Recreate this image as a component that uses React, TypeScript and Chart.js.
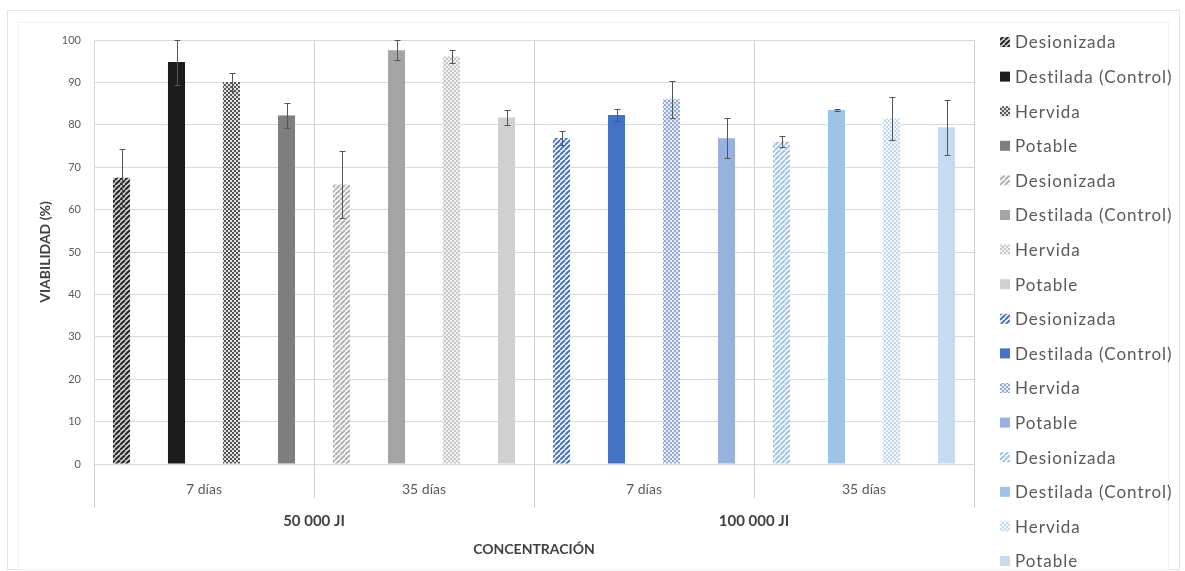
import React, { useEffect, useRef } from "react";
import { Chart, registerables } from "chart.js";

Chart.register(...registerables);

// ---- Data ----
const categories = ["7 días", "35 días", "7 días", "35 días"];
const groupLabels = ["50 000 JI", "100 000 JI"];
const waterTypes = ["Desionizada", "Destilada (Control)", "Hervida", "Potable"];

// Viability means (%) per water type, for each category
const mean50k7d = [67.5, 94.8, 90.1, 82.2];
const mean50k35d = [65.9, 97.6, 96.1, 81.7];
const mean100k7d = [76.9, 82.3, 86.0, 76.8];
const mean100k35d = [76.0, 83.5, 81.5, 79.4];

// Error (+/-)
const err50k7d = [6.8, 5.3, 2.2, 3.0];
const err50k35d = [7.9, 2.4, 1.5, 1.7];
const err100k7d = [1.7, 1.5, 4.4, 4.7];
const err100k35d = [1.3, 0.2, 5.0, 6.5];

const means = [mean50k7d, mean50k35d, mean100k7d, mean100k35d];
const errs = [err50k7d, err50k35d, err100k7d, err100k35d];

// ---- Styles ----
type Fill = { kind: "solid" | "stripes" | "checker"; fg: string; bg?: string };
const fills: Fill[][] = [
  [
    { kind: "stripes", fg: "#262626", bg: "#d9d9d9" },
    { kind: "solid", fg: "#1c1c1c" },
    { kind: "checker", fg: "#555555", bg: "#e0e0e0" },
    { kind: "solid", fg: "#7f7f7f" },
  ],
  [
    { kind: "stripes", fg: "#b0b0b0", bg: "#ffffff" },
    { kind: "solid", fg: "#a6a4a4" },
    { kind: "checker", fg: "#c8c8c8", bg: "#f2f2f2" },
    { kind: "solid", fg: "#d0d0d0" },
  ],
  [
    { kind: "stripes", fg: "#4472c4", bg: "#ffffff" },
    { kind: "solid", fg: "#4472c4" },
    { kind: "checker", fg: "#8faadc", bg: "#e9eef8" },
    { kind: "solid", fg: "#99b1de" },
  ],
  [
    { kind: "stripes", fg: "#9dc3e6", bg: "#ffffff" },
    { kind: "solid", fg: "#9dc3e6" },
    { kind: "checker", fg: "#c2d9ef", bg: "#f3f8fc" },
    { kind: "solid", fg: "#c6dbf0" },
  ],
];

function makeFill(f: Fill): any {
  if (f.kind === "solid") return f.fg;
  const c = document.createElement("canvas");
  const size = f.kind === "stripes" ? 5 : 4;
  c.width = size;
  c.height = size;
  const ctx = c.getContext("2d")!;
  ctx.fillStyle = f.bg || "#fff";
  ctx.fillRect(0, 0, size, size);
  if (f.kind === "stripes") {
    ctx.strokeStyle = f.fg;
    ctx.lineWidth = 2;
    for (let o = -size; o <= size; o += size) {
      ctx.beginPath();
      ctx.moveTo(o, size);
      ctx.lineTo(o + size, 0);
      ctx.stroke();
    }
  } else {
    ctx.fillStyle = f.fg;
    ctx.fillRect(0, 0, 2, 2);
    ctx.fillRect(2, 2, 2, 2);
  }
  return ctx.createPattern(c, "repeat");
}

const errorBarPlugin = {
  id: "errorBars",
  afterDatasetsDraw(chart: any) {
    const ctx = chart.ctx;
    const y = chart.scales.y;
    const area = chart.chartArea;
    ctx.save();
    ctx.beginPath();
    ctx.rect(area.left, area.top - 1, area.right - area.left, area.bottom - area.top + 1);
    ctx.clip();
    ctx.strokeStyle = "#555555";
    ctx.lineWidth = 1;
    chart.data.datasets.forEach((ds: any, di: number) => {
      const meta = chart.getDatasetMeta(di);
      ds.data.forEach((v: number | null, i: number) => {
        if (v == null) return;
        const e = ds.errors[i];
        const bar = meta.data[i];
        if (!bar) return;
        const x = Math.round(bar.x) + 0.5;
        const yTop = Math.round(y.getPixelForValue(v + e)) + 0.5;
        const yBot = Math.round(y.getPixelForValue(v - e)) + 0.5;
        ctx.beginPath();
        ctx.moveTo(x, yTop);
        ctx.lineTo(x, yBot);
        ctx.moveTo(x - 3, yTop);
        ctx.lineTo(x + 3, yTop);
        ctx.moveTo(x - 3, yBot);
        ctx.lineTo(x + 3, yBot);
        ctx.stroke();
      });
    });
    ctx.restore();
  },
};

const decorPlugin = {
  id: "decor",
  beforeDraw(chart: any) {
    const ctx = chart.ctx;
    ctx.save();
    ctx.strokeStyle = "#dfe5ec";
    ctx.lineWidth = 1;
    ctx.strokeRect(7.5, 10.5, chart.width - 13, chart.height - 12);
    ctx.strokeStyle = "#f0f0f0";
    ctx.strokeRect(18.5, 22.5, chart.width - 35, chart.height - 24);
    ctx.restore();
  },
  afterDraw(chart: any) {
    const ctx = chart.ctx;
    const x = chart.scales.x;
    const area = chart.chartArea;
    const n = x.ticks.length;
    const w = (x.right - x.left) / n;
    ctx.save();
    ctx.strokeStyle = "#d0d0d0";
    ctx.lineWidth = 1;
    for (let i = 0; i <= n; i++) {
      const px = Math.round(x.left + i * w) + 0.5;
      const isGroupEdge = i % 2 === 0;
      const end = isGroupEdge ? x.bottom + 4 : x.bottom - 6;
      ctx.beginPath();
      ctx.moveTo(px, area.bottom);
      ctx.lineTo(px, end);
      ctx.stroke();
    }
    // legend
    const lx = area.right + 26;
    const top = area.top + 2;
    const step = 34.6;
    ctx.font = "17px Lato";
    (ctx as any).letterSpacing = "1px";
    ctx.textBaseline = "middle";
    chart.data.datasets.forEach((ds: any, i: number) => {
      const cy = top + i * step;
      ctx.fillStyle = ds.backgroundColor;
      ctx.fillRect(lx, cy - 5, 10, 10);
      ctx.fillStyle = "#595959";
      ctx.fillText(ds.label, lx + 15, cy + 1);
    });
    ctx.restore();
  },
};

export default function App() {
  const ref = useRef<HTMLCanvasElement>(null);
  useEffect(() => {
    document.body.style.margin = "0";
    const datasets: any[] = [];
    means.forEach((m, g) => {
      waterTypes.forEach((wt, w) => {
        datasets.push({
          label: wt,
          data: categories.map((_, i) => (i === g ? m[w] : null)),
          errors: categories.map((_, i) => (i === g ? errs[g][w] : 0)),
          backgroundColor: makeFill(fills[g][w]),
          borderWidth: 0,
          barPercentage: 0.31,
          categoryPercentage: 1,
          skipNull: true,
        });
      });
    });
    const tickFont = { family: "Lato", size: 14 };
    const boldFont = { family: "Lato", size: 14, weight: "bold" as const };
    const groupFont = { family: "Lato", size: 15, weight: "bold" as const };
    const chart = new Chart(ref.current!, {
      type: "bar",
      data: { labels: categories, datasets },
      plugins: [errorBarPlugin, decorPlugin],
      options: {
        animation: false,
        responsive: false,
        layout: { padding: { top: 40, right: 211, bottom: 0, left: 0 } },
        plugins: { legend: { display: false }, tooltip: { enabled: false } },
        scales: {
          x: {
            type: "category",
            offset: true,
            weight: 0,
            grid: { offset: true, color: "#d0d0d0", drawTicks: false },
            border: { color: "#d9d9d9" },
            ticks: { padding: 17, color: "#595959", font: tickFont },
            afterFit: (s: any) => {
              s.height = 40;
            },
          },
          x2: {
            type: "category",
            position: "bottom",
            labels: groupLabels,
            offset: true,
            weight: 1,
            grid: { display: false, drawTicks: false, offset: true },
            border: { display: false },
            ticks: { padding: 8, color: "#404040", font: groupFont },
            title: {
              display: true,
              text: "CONCENTRACIÓN",
              color: "#404040",
              font: boldFont,
              padding: { top: 0, bottom: 13 },
            },
            afterFit: (s: any) => {
              s.height = 67;
            },
          },
          y: {
            min: 0,
            max: 100,
            grid: { color: "#d9d9d9", drawTicks: false },
            border: { color: "#d9d9d9" },
            ticks: {
              stepSize: 10,
              padding: 13,
              color: "#595959",
              font: { family: "Lato", size: 11 },
            },
            title: {
              display: true,
              text: "VIABILIDAD (%)",
              color: "#404040",
              font: boldFont,
              padding: { top: 37, bottom: 0 },
            },
            afterFit: (s: any) => {
              s.width = 94;
            },
          },
        } as any,
      },
    });
    return () => chart.destroy();
  }, []);
  return (
    <div style={{ width: 1185, height: 571 }}>
      <canvas ref={ref} width={1185} height={571} />
    </div>
  );
}
